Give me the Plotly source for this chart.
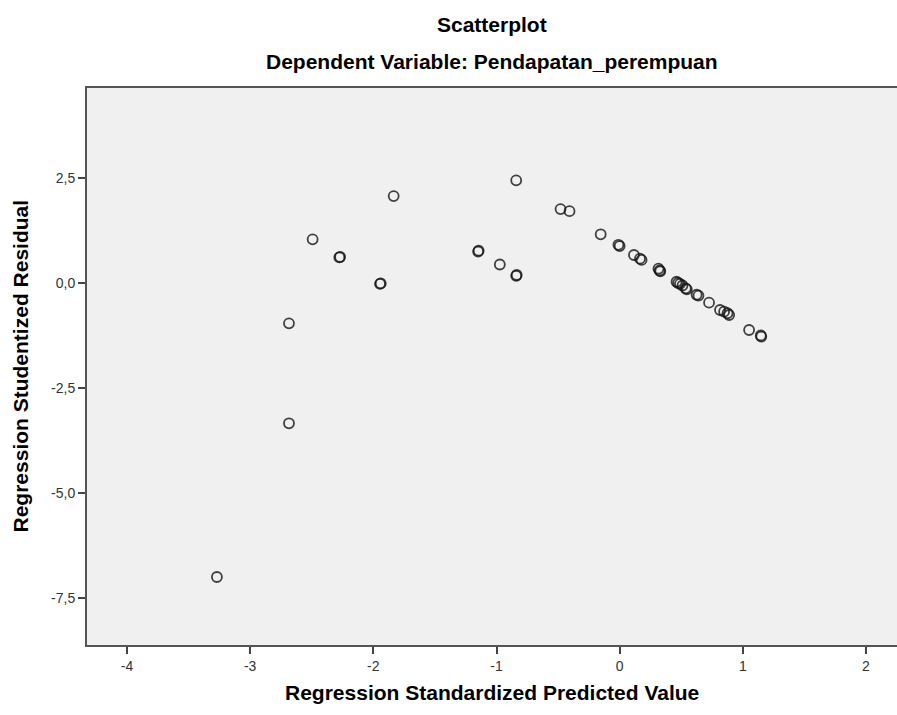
import plotly.graph_objects as go

# Regression standardized predicted value (x) and studentized residual (y)
pred = [-3.27, -2.685, -2.685, -2.493, -2.276, -2.27, -1.946, -1.94, -1.835,
        -1.149, -1.145, -0.973, -0.84, -0.836, -0.84, -0.48, -0.407,
        -0.154, -0.01, 0.0, 0.116, 0.165, 0.178, 0.315, 0.325, 0.33,
        0.462, 0.475, 0.49, 0.51, 0.537, 0.545, 0.625, 0.64,
        0.726, 0.815, 0.848, 0.876, 0.889, 1.051, 1.146, 1.15]
resid = [-7.0, -0.96, -3.34, 1.04, 0.61, 0.62, -0.02, -0.01, 2.07,
         0.75, 0.77, 0.44, 0.17, 0.19, 2.445, 1.76, 1.71,
         1.16, 0.91, 0.88, 0.667, 0.58, 0.55, 0.34, 0.3, 0.28,
         0.03, 0.0, -0.02, -0.06, -0.126, -0.15, -0.28, -0.3,
         -0.468, -0.643, -0.683, -0.72, -0.762, -1.119, -1.25, -1.275]

x_ticks = [-4, -3, -2, -1, 0, 1, 2]
x_ticktext = ["-4", "-3", "-2", "-1", "0", "1", "2"]
y_ticks = [2.5, 0.0, -2.5, -5.0, -7.5]
y_ticktext = ["2,5", "0,0", "-2,5", "-5,0", "-7,5"]

FONT = "Liberation Sans, Arial, sans-serif"

fig = go.Figure()
fig.add_trace(go.Scatter(
    x=pred, y=resid, mode="markers",
    marker=dict(symbol="circle-open", size=10,
                color="rgba(20,20,20,0.8)",
                line=dict(width=1.8, color="rgba(20,20,20,0.8)")),
    showlegend=False, hoverinfo="x+y",
))

title_font = dict(size=21, color="black", family=FONT)
fig.update_layout(
    width=897, height=715,
    margin=dict(l=87, r=0, t=88, b=70),
    paper_bgcolor="white",
    plot_bgcolor="#f0f0f0",
    font=dict(family=FONT, color="#222"),
    annotations=[
        dict(text="<b>Scatterplot</b>", xref="paper", yref="paper",
             x=0.5, y=1, yanchor="middle", yshift=64, showarrow=False,
             font=title_font),
        dict(text="<b>Dependent Variable: Pendapatan_perempuan</b>",
             xref="paper", yref="paper", x=0.5, y=1, yanchor="middle",
             yshift=27, showarrow=False, font=title_font),
        dict(text="<b>Regression Standardized Predicted Value</b>",
             xref="paper", yref="paper", x=0.5, y=0, yanchor="middle",
             yshift=-47, showarrow=False, font=title_font),
        dict(text="<b>Regression Studentized Residual</b>",
             xref="paper", yref="paper", x=0, y=0.5, xanchor="center",
             yanchor="middle", xshift=-67, textangle=-90, showarrow=False,
             font=title_font),
    ],
)

fig.update_xaxes(
    range=[-4.325, 2.252], tickvals=x_ticks, ticktext=x_ticktext,
    ticks="outside", ticklen=7, tickwidth=2, tickcolor="#444",
    tickfont=dict(size=14, color="#333", family=FONT),
    showgrid=False, zeroline=False,
    showline=True, linecolor="#555", linewidth=2, mirror=True,
)
fig.update_yaxes(
    range=[-8.619, 4.643], tickvals=y_ticks, ticktext=y_ticktext,
    ticks="outside", ticklen=7, tickwidth=2, tickcolor="#444",
    tickfont=dict(size=14, color="#333", family=FONT),
    showgrid=False, zeroline=False,
    showline=True, linecolor="#555", linewidth=2, mirror=False,
)

fig.write_html("out.html")
